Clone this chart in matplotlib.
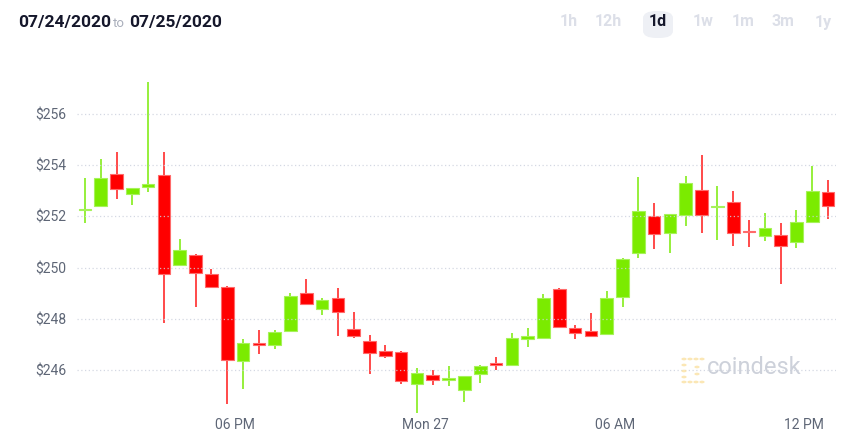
import matplotlib
matplotlib.use('Agg')
import matplotlib.pyplot as plt
from matplotlib.patches import Rectangle, FancyBboxPatch, Circle

# ---- data (30-min candles) ----
opens = [252.25, 252.39, 253.65, 252.86, 253.14, 253.61, 250.12, 250.51, 249.76, 249.25,
         246.35, 247.03, 246.98, 247.53, 249.02, 248.39, 248.82, 247.61, 247.14, 246.75,
         246.71, 245.45, 245.80, 245.63, 245.22, 245.84, 246.25, 246.20, 247.22, 247.25,
         249.18, 247.65, 247.53, 247.41, 248.86, 250.55, 252.00, 251.37, 252.04, 253.02,
         252.37, 252.55, 251.42, 251.22, 251.29, 250.98, 251.80, 252.94]
closes = [252.29, 253.49, 253.06, 253.10, 253.25, 249.73, 250.67, 249.80, 249.25, 246.39,
          247.06, 247.00, 247.49, 248.90, 248.59, 248.75, 248.27, 247.33, 246.67, 246.55,
          245.57, 245.88, 245.61, 245.69, 245.76, 246.16, 246.23, 247.25, 247.33, 248.82,
          247.69, 247.45, 247.33, 248.82, 250.35, 252.20, 251.33, 252.08, 253.29, 252.04,
          252.41, 251.37, 251.40, 251.53, 250.86, 251.80, 252.98, 252.39]
highs = [253.49, 254.24, 254.51, 253.12, 257.25, 254.51, 251.10, 250.53, 249.96, 249.27,
         247.22, 247.57, 247.57, 249.02, 249.57, 248.82, 249.22, 248.27, 247.37, 246.98,
         246.73, 246.08, 246.00, 246.16, 245.78, 246.18, 246.51, 247.45, 247.65, 248.98,
         249.20, 247.76, 248.24, 249.10, 250.39, 253.53, 252.51, 252.10, 253.57, 254.39,
         253.18, 252.98, 251.84, 252.12, 251.73, 252.24, 253.96, 253.41]
lows = [251.76, 252.35, 252.67, 252.43, 252.94, 247.84, 250.10, 248.47, 249.22, 244.67,
        245.25, 246.63, 246.82, 247.49, 248.57, 248.16, 247.33, 247.25, 245.84, 246.47,
        245.45, 244.31, 245.41, 245.37, 244.75, 245.49, 246.00, 246.18, 246.90, 247.23,
        247.65, 247.22, 247.29, 247.39, 248.47, 250.39, 250.71, 250.55, 251.61, 251.37,
        251.06, 250.86, 250.82, 251.02, 249.37, 250.75, 251.73, 251.88]
# bullish flag (doji candles keep the colour seen in the picture)
is_up = [c >= o for o, c in zip(opens, closes)]

y_ticks = [246, 248, 250, 252, 254, 256]
y_labels = ['$246', '$248', '$250', '$252', '$254', '$256']
x_tick_pos = [10.5, 22.5, 34.5, 46.5]
x_tick_labels = ['06 PM', 'Mon 27', '06 AM', '12 PM']
ranges = ['1h', '12h', '1d', '1w', '1m', '3m', '1y']
active_range = '1d'

# ---- figure ----
W, H = 862, 444
fig = plt.figure(figsize=(W / 100, H / 100), dpi=100)
fig.patch.set_facecolor('white')
ax = fig.add_axes([77 / W, 1 - 415 / H, (836 - 77) / W, (415 - 60) / H])
ax.set_xlim(0.5, 48.5)
ax.set_ylim(244.24, 258.11)
for s in ax.spines.values():
    s.set_visible(False)

GREEN = '#7BEB00'
GREEN_EDGE = '#A6F25A'
GREEN_WICK = '#8EEE2C'
RED = '#FF0000'
RED_EDGE = '#FF6A6A'
RED_WICK = '#FF3B3B'
bw = 0.8
min_h = 0.07
for i, (o, c, h, l, up) in enumerate(zip(opens, closes, highs, lows, is_up)):
    x = i + 1
    col = GREEN if up else RED
    ecol = GREEN_EDGE if up else RED_EDGE
    wcol = GREEN_WICK if up else RED_WICK
    ax.vlines(x, l, h, color=wcol, lw=1.3, zorder=2)
    bot = min(o, c)
    ht = abs(c - o)
    if ht < min_h:
        bot = (o + c) / 2 - min_h / 2
        ht = min_h
    ax.add_patch(Rectangle((x - bw / 2, bot), bw, ht, facecolor=col,
                           edgecolor=ecol, lw=0.8, zorder=3))

# dotted grid drawn on top
for yv in y_ticks:
    ax.axhline(yv, color='#CDD2DE', lw=0.9, ls=(0, (1, 2)), zorder=5, alpha=0.85)

ax.set_yticks(y_ticks)
ax.set_yticklabels(y_labels)
ax.set_xticks(x_tick_pos)
ax.set_xticklabels(x_tick_labels)
ax.tick_params(axis='both', length=0, colors='#5E6676', labelsize=10)
ax.tick_params(axis='y', pad=8)
ax.tick_params(axis='x', pad=2)
for lab in ax.get_xticklabels() + ax.get_yticklabels():
    lab.set_fontfamily(['Roboto', 'DejaVu Sans'])

# ---- watermark ----
ic = '#FBE3A8'
for (px, py) in [(684, 359), (690, 359), (696, 359), (702, 359), (684, 365), (684, 371),
                 (684, 377), (690, 382), (696, 382), (702, 382), (684, 382), (697, 367), (697, 374)]:
    fig.patches.append(Circle((px / W, 1 - py / H), 2.6 / W, transform=fig.transFigure,
                              facecolor=ic, edgecolor='none', alpha=0.85))
fig.text(707 / W, 1 - 368 / H, 'coindesk', fontsize=17, color='#CDD1DA',
         family=['Roboto', 'DejaVu Sans'], va='center', ha='left')

# ---- header ----
hdr_y = 1 - 22 / H
fig.text(18 / W, hdr_y, '07/24/2020', fontsize=12.5, fontweight='bold', color='#15172B',
         family=['Roboto', 'DejaVu Sans'], va='center', ha='left')
fig.text(113 / W, hdr_y - 0.003, 'to', fontsize=9.5, color='#A9AEBB',
         family=['Roboto', 'DejaVu Sans'], va='center', ha='left')
fig.text(129 / W, hdr_y, '07/25/2020', fontsize=12.5, fontweight='bold', color='#15172B',
         family=['Roboto', 'DejaVu Sans'], va='center', ha='left')

rx = [569, 608, 658, 703, 743, 783, 823]
for lbl, cx in zip(ranges, rx):
    if lbl == active_range:
        fig.patches.append(FancyBboxPatch(((cx - 15) / W, 1 - 38 / H), 30 / W, 27 / H,
                                          boxstyle='round,pad=0,rounding_size=0.016',
                                          transform=fig.transFigure,
                                          facecolor='#EEF0F5', edgecolor='none'))
        fig.text(cx / W, hdr_y, lbl, fontsize=11.5, fontweight='bold', color='#15172B',
                 family=['Roboto', 'DejaVu Sans'], va='center', ha='center')
    else:
        fig.text(cx / W, hdr_y, lbl, fontsize=11.5, fontweight='bold', color='#DCDFE8',
                 family=['Roboto', 'DejaVu Sans'], va='center', ha='center')

fig.savefig('out.png', dpi=100, facecolor='white')
